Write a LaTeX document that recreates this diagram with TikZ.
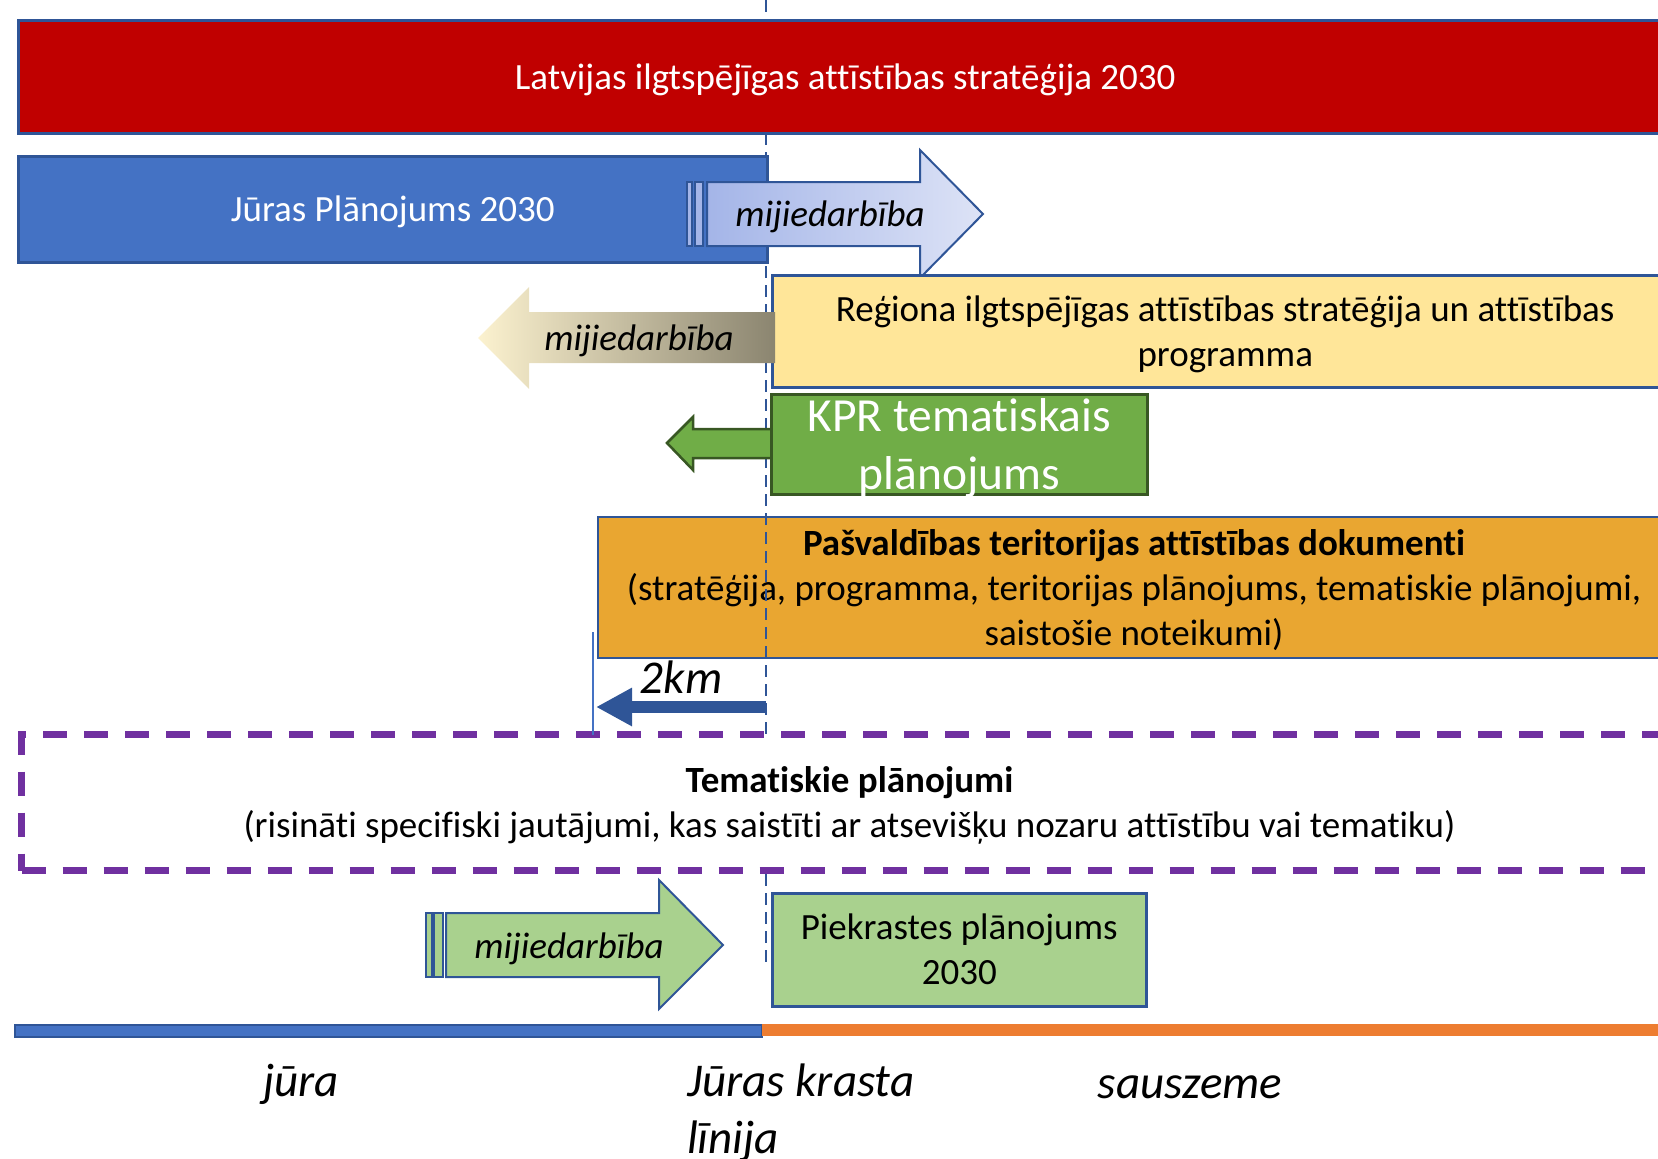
\documentclass[tikz,border=0pt]{standalone}
\usepackage{fontspec}
\setmainfont[Ligatures=NoCommon]{Carlito}
\usetikzlibrary{arrows.meta, positioning, calc}

\definecolor{lsRed}{HTML}{C00000}
\definecolor{lsBlue}{HTML}{4472C4}
\definecolor{lsFrame}{HTML}{2F5597}
\definecolor{lsYellow}{HTML}{FFE699}
\definecolor{lsGreen}{HTML}{70AD47}
\definecolor{lsDarkGreen}{HTML}{385723}
\definecolor{lsLightGreen}{HTML}{A9D18E}
\definecolor{lsOrange}{HTML}{E9A631}
\definecolor{lsLand}{HTML}{ED7D31}
\definecolor{lsPurple}{HTML}{7030A0}
\definecolor{lsArrowL}{HTML}{A4B5E8}
\definecolor{lsArrowR}{HTML}{DDE3F6}
\definecolor{lsTanL}{HTML}{FCF2CF}
\definecolor{lsTanR}{HTML}{8B8570}

\begin{document}
\begin{tikzpicture}[x=1pt, y=-1pt,
    plan/.style={draw=lsFrame, line width=2.5pt, anchor=north west, inner sep=0pt},
    txt/.style={align=center, inner sep=0pt, font=\fontsize{37}{45}\selectfont},
    itxt/.style={txt, font=\fontsize{37}{45}\selectfont\itshape},
    bigtxt/.style={align=left, inner sep=0pt, font=\fontsize{47}{57}\selectfont\itshape},
    blockarrow/.style={draw=lsFrame, line width=2pt}
]
    \useasboundingbox (0,0) rectangle (1658,1159);
    \clip (0,0) rectangle (1658,1159);

    % --- municipal documents ---
    \node[plan, line width=2pt, fill=lsOrange, minimum width=1072pt, minimum height=141pt] (pasv) at (597,516) {};
    \node[txt] (pasvTxt) at ([yshift=-3pt]pasv.center)
        {\textbf{Pašvaldības teritorijas attīstības dokumenti}\\(stratēģija, programma, teritorijas plānojums, tematiskie plānojumi,\\saistošie noteikumi)};

    % --- coast line ---
    \coordinate (krastsTop) at (766,0);
    \coordinate (krastsBot) at (766,963);
    \draw[lsFrame, line width=2.5pt, dash pattern=on 12pt off 7pt] (krastsTop) -- (krastsBot);

    % --- thematic plans ---
    \node[plan, draw=lsPurple, line width=7pt, dash pattern=on 24pt off 17pt, fill=white, minimum width=1656pt, minimum height=136pt] (tema) at (18,731) {};
    \node[txt] (temaTxt) at ([yshift=-3pt]tema.center)
        {\textbf{Tematiskie plānojumi}\\(risināti specifiski jautājumi, kas saistīti ar atsevišķu nozaru attīstību vai tematiku)};

    % --- national strategy and maritime plan ---
    \node[plan, fill=lsRed, minimum width=1654pt, minimum height=113pt] (lias) at (17,19) {};
    \node[txt, text=white] (liasTxt) at ([yshift=-3pt]lias.center) {Latvijas ilgtspējīgas attīstības stratēģija 2030};
    \node[plan, fill=lsBlue, minimum width=749pt, minimum height=106pt] (jurasPl) at (17,155) {};
    \node[txt, text=white] (jurasPlTxt) at ([yshift=-3pt]jurasPl.center) {Jūras Plānojums 2030};

    % interaction arrow to the right
    \path[blockarrow, fill=lsArrowL] (687,182) rectangle (692,246);
    \path[blockarrow, fill=lsArrowL] (695,182) rectangle (703,246);
    \path[blockarrow, left color=lsArrowL, right color=lsArrowR]
        (707,182) -- (920,182) -- (920,150) -- (983,214) -- (920,278) -- (920,246) -- (707,246) -- cycle;
    \node[itxt] (mij1) at (830,217) {mijiedarbība};

    % --- regional strategy ---
    \node[plan, fill=lsYellow, minimum width=906pt, minimum height=112pt] (regions) at (771,274) {};
    \node[txt] (regionsTxt) at ([yshift=-3pt]regions.center)
        {Reģiona ilgtspējīgas attīstības stratēģija un attīstības\\programma};
    \path[left color=lsTanL, right color=lsTanR]
        (775,312) -- (529,312) -- (529,287) -- (478,338) -- (529,389) -- (529,363) -- (775,363) -- cycle;
    \node[itxt] (mij2) at (639,341) {mijiedarbība};

    % --- KPR ---
    \path[draw=lsDarkGreen, line width=2.5pt, fill=lsGreen]
        (772,429) -- (693,429) -- (693,417) -- (667,443) -- (693,470) -- (693,458) -- (772,458) -- cycle;
    \node[plan, draw=lsDarkGreen, fill=lsGreen, minimum width=376pt, minimum height=100pt] (kpr) at (770,393) {};
    \node[txt, text=white, font=\fontsize{47.5}{58}\selectfont] (kprTxt) at ([yshift=-4pt]kpr.center)
        {KPR tematiskais\\plānojums};

    % --- 2 km zone ---
    \coordinate (kmTop) at (593,632);
    \coordinate (kmBot) at (593,735);
    \draw[lsBlue, line width=1.5pt] (kmTop) -- (kmBot);
    \coordinate (kmStart) at (766,707);
    \coordinate (kmEnd) at (596,707);
    \draw[lsFrame, line width=12pt, -{Triangle[length=36pt,width=36pt]}] (kmStart) -- (kmEnd);
    \node[bigtxt] (km) at (681,677) {2km};

    % --- coastal plan ---
    \path[blockarrow, fill=lsLightGreen] (426,913) rectangle (432,977);
    \path[blockarrow, fill=lsLightGreen] (434,913) rectangle (443,977);
    \path[blockarrow, fill=lsLightGreen]
        (446,913) -- (659,913) -- (659,880) -- (723,945) -- (659,1009) -- (659,977) -- (446,977) -- cycle;
    \node[itxt] (mij3) at (569,949) {mijiedarbība};
    \node[plan, fill=lsLightGreen, minimum width=374pt, minimum height=113pt] (piekr) at (771,892) {};
    \node[txt] (piekrTxt) at (piekr.center) {Piekrastes plānojums\\2030};

    % --- sea / land axis ---
    \path[fill=lsBlue, draw=lsFrame, line width=1.5pt] (15,1025) rectangle (762,1037);
    \path[fill=lsLand] (762,1024) rectangle (1700,1036);
    \node[bigtxt, anchor=base] (jura) at (301,1096) {jūra};
    \node[bigtxt, anchor=base west] (linija) at (687,1153) {Jūras krasta\\līnija};
    \node[bigtxt, anchor=base] (sauszeme) at (1190,1098) {sauszeme};
\end{tikzpicture}
\end{document}
